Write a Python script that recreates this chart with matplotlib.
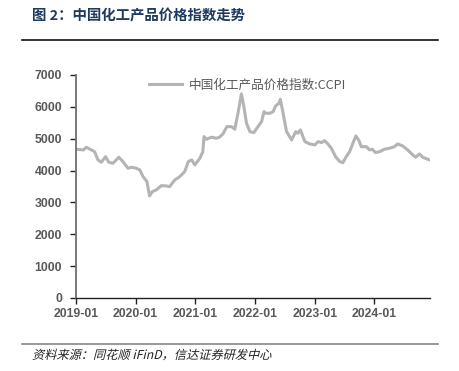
import numpy as np
import pandas as pd
import matplotlib
matplotlib.use('Agg')
import matplotlib.pyplot as plt
import matplotlib.transforms as mtransforms
from matplotlib.textpath import TextPath
from matplotlib.patches import PathPatch
from matplotlib.font_manager import FontProperties

plt.rcParams['font.family'] = ['Noto Sans CJK SC', 'DejaVu Sans']

# CCPI readings
dates = ['2019-01-01', '2019-02-15', '2019-03-05', '2019-04-05', '2019-04-25',
         '2019-05-15', '2019-06-05', '2019-07-01', '2019-07-20', '2019-08-15',
         '2019-09-20', '2019-10-15', '2019-11-15', '2019-12-05', '2020-01-05',
         '2020-01-26', '2020-02-15', '2020-03-10', '2020-03-26', '2020-04-12',
         '2020-05-06', '2020-06-06', '2020-07-06', '2020-07-27', '2020-08-27',
         '2020-09-27', '2020-10-27', '2020-11-18', '2020-12-09', '2020-12-28',
         '2021-01-28', '2021-02-15', '2021-02-22', '2021-03-09', '2021-04-09',
         '2021-05-09', '2021-05-28', '2021-06-18', '2021-07-12', '2021-08-09',
         '2021-08-29', '2021-09-18', '2021-10-09', '2021-10-24', '2021-11-09',
         '2021-11-30', '2021-12-24', '2022-01-18', '2022-02-09', '2022-02-24',
         '2022-03-06', '2022-04-01', '2022-04-21', '2022-05-06', '2022-05-27',
         '2022-06-04', '2022-06-21', '2022-07-12', '2022-08-12', '2022-09-06',
         '2022-09-20', '2022-10-05', '2022-11-01', '2022-12-01', '2023-01-01',
         '2023-01-21', '2023-02-12', '2023-03-01', '2023-03-22', '2023-04-12',
         '2023-05-08', '2023-06-02', '2023-06-22', '2023-07-12', '2023-08-02',
         '2023-08-22', '2023-09-09', '2023-09-28', '2023-10-12', '2023-11-12',
         '2023-12-02', '2023-12-18', '2024-01-08', '2024-02-02', '2024-03-02',
         '2024-04-02', '2024-05-02', '2024-05-22', '2024-06-22', '2024-07-22',
         '2024-08-22', '2024-09-09', '2024-10-02', '2024-10-22', '2024-11-22',
         '2024-12-03']
ccpi = [4668, 4646, 4730, 4646, 4590, 4332, 4260, 4435, 4260, 4228,
        4416, 4280, 4071, 4103, 4071, 4018, 3808, 3651, 3202, 3337,
        3390, 3525, 3515, 3494, 3704, 3808, 3965, 4280, 4332, 4175,
        4385, 4592, 5063, 4982, 5045, 5013, 5045, 5148, 5377, 5377,
        5296, 5798, 6404, 6005, 5484, 5220, 5189, 5377, 5534, 5848,
        5798, 5798, 5848, 6027, 6111, 6237, 5798, 5220, 4960, 5220,
        5170, 5274, 4906, 4834, 4803, 4906, 4875, 4938, 4834, 4699,
        4435, 4280, 4247, 4435, 4592, 4856, 5085, 4938, 4749, 4749,
        4646, 4668, 4561, 4592, 4668, 4699, 4749, 4834, 4771, 4646,
        4490, 4416, 4520, 4416, 4354, 4332]
yticks = [0, 1000, 2000, 3000, 4000, 5000, 6000, 7000]
xtick_labels = ['2019-01', '2020-01', '2021-01', '2022-01', '2023-01', '2024-01']

x = pd.to_datetime(dates)
tick_color = '#595959'

fig = plt.figure(figsize=(4.59, 3.71), dpi=100)
ax = fig.add_axes([0.1656, 0.197, 0.771, 0.601])

ax.plot(x, ccpi, color='#b4b4b4', lw=2.2, label='中国化工产品价格指数:CCPI')

ax.set_ylim(0, 7000)
ax.set_yticks(yticks)
ax.set_xlim(pd.Timestamp('2019-01-01'), pd.Timestamp('2024-12-05'))
ax.set_xticks(pd.to_datetime([s + '-01' for s in xtick_labels]))
ax.set_xticklabels(xtick_labels)

for s in ['top', 'right']:
    ax.spines[s].set_visible(False)
ax.spines['left'].set_color('#6e6e6e')
ax.spines['left'].set_linewidth(1.3)
ax.spines['bottom'].set_color('#222222')
ax.spines['bottom'].set_linewidth(1.0)
ax.tick_params(axis='y', length=4, width=1, color='#222222', pad=6)
ax.tick_params(axis='x', length=4, width=1, color='#222222', pad=3)
for lab in ax.get_xticklabels() + ax.get_yticklabels():
    lab.set_family(['Liberation Sans', 'DejaVu Sans'])
    lab.set_fontweight('bold')
    lab.set_fontsize(8.8)
    lab.set_color(tick_color)

leg = ax.legend(loc='upper left', bbox_to_anchor=(0.175, 1.035), frameon=False,
                handlelength=2.6, handletextpad=0.5, fontsize=9.1)
for t in leg.get_texts():
    t.set_color(tick_color)

fig.text(0.07, 0.975, '图 2：中国化工产品价格指数走势', fontsize=10.4, fontweight='bold',
         color='#1f3a5f', va='top', ha='left')
fig.add_artist(plt.Line2D([0.048, 0.954], [0.892, 0.892], color='#111111', lw=1.2))
fig.add_artist(plt.Line2D([0.048, 0.954], [0.073, 0.073], color='#888888', lw=1.2))

# source note, slanted like an italic
src = '资料来源：同花顺 iFinD，信达证券研发中心'
tp = TextPath((0, 0), src, size=12.2, prop=FontProperties(family='Noto Sans CJK SC'))
tr = mtransforms.Affine2D().skew_deg(14, 0).translate(32, 371 - 359)
fig.add_artist(PathPatch(tp, transform=tr, facecolor='#222222', lw=0))

fig.savefig('out.png', dpi=100)
